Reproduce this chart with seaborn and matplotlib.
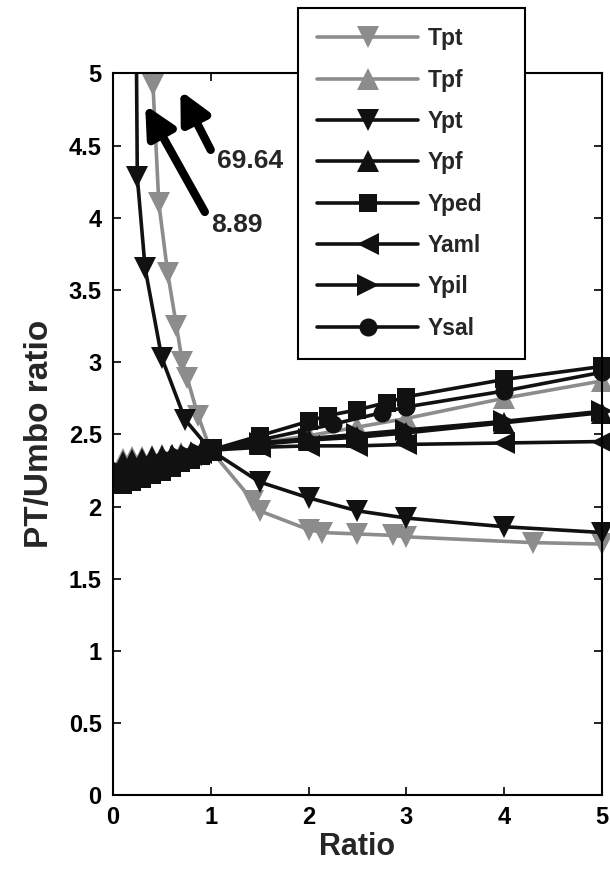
import pandas as pd
import matplotlib.pyplot as plt
import seaborn as sns
from matplotlib.patches import Rectangle

# values
tpt_x = [0.35, 0.41, 0.47, 0.56, 0.65, 0.71, 0.76, 0.87, 1.0, 1.43, 1.5, 2.0, 2.14, 2.5, 2.86, 3.0, 4.29, 5.0]
tpt_y = [69.64, 4.92, 4.10, 3.62, 3.25, 3.00, 2.89, 2.63, 2.39, 2.04, 1.97, 1.84, 1.82, 1.81, 1.80, 1.79, 1.75, 1.74]

ypt_x = [0.2, 0.25, 0.33, 0.5, 0.74, 1.0, 1.5, 2.0, 2.5, 3.0, 4.0, 5.0]
ypt_y = [8.89, 4.28, 3.65, 3.03, 2.60, 2.39, 2.17, 2.06, 1.97, 1.92, 1.86, 1.82]

left_x = [0.1, 0.2, 0.3, 0.4, 0.5, 0.6, 0.7, 0.8, 0.9, 1.0]
right_x = [1.5, 2.0, 2.5, 3.0, 4.0, 5.0]

tpf_y = [2.33, 2.34, 2.34, 2.35, 2.36, 2.36, 2.37, 2.38, 2.38, 2.39,
         2.44, 2.49, 2.55, 2.61, 2.75, 2.87]
ypf_y = [2.31, 2.32, 2.33, 2.34, 2.35, 2.36, 2.36, 2.37, 2.38, 2.39,
         2.43, 2.46, 2.48, 2.51, 2.58, 2.65]
yaml_y = [2.27, 2.28, 2.29, 2.31, 2.32, 2.33, 2.34, 2.36, 2.37, 2.39,
          2.41, 2.42, 2.42, 2.43, 2.44, 2.45]
ypil_y = [2.24, 2.25, 2.27, 2.29, 2.30, 2.32, 2.34, 2.35, 2.37, 2.39,
          2.44, 2.47, 2.50, 2.53, 2.59, 2.66]

yped_x = left_x + [1.5, 2.0, 2.2, 2.5, 2.8, 3.0, 4.0, 5.0]
yped_y = [2.15, 2.17, 2.19, 2.22, 2.24, 2.27, 2.30, 2.32, 2.35, 2.39,
          2.49, 2.59, 2.63, 2.67, 2.72, 2.76, 2.88, 2.97]
ysal_x = left_x + [1.5, 2.25, 2.75, 3.0, 4.0, 5.0]
ysal_y = [2.19, 2.21, 2.23, 2.25, 2.27, 2.29, 2.31, 2.33, 2.36, 2.39,
          2.46, 2.57, 2.65, 2.69, 2.80, 2.93]

series = [
    ("Tpt", tpt_x, tpt_y, "v"),
    ("Tpf", left_x + right_x, tpf_y, "^"),
    ("Ypt", ypt_x, ypt_y, "v"),
    ("Ypf", left_x + right_x, ypf_y, "^"),
    ("Yped", yped_x, yped_y, "s"),
    ("Yaml", left_x + right_x, yaml_y, "<"),
    ("Ypil", left_x + right_x, ypil_y, ">"),
    ("Ysal", ysal_x, ysal_y, "o"),
]

gray = "#8c8c8c"
black = "#111111"

sns.set_theme(style="ticks")
plt.rcParams["font.family"] = ["Liberation Sans", "DejaVu Sans"]
plt.rcParams["font.weight"] = "bold"
plt.rcParams["axes.labelweight"] = "bold"

fig = plt.figure(figsize=(6.1, 8.73), dpi=100)
ax = fig.add_axes([0.185, 0.089, 0.802, 0.827])

for name, xs, ys, mk in series:
    df = pd.DataFrame({"x": xs, "y": ys})
    col = gray if name.startswith("T") else black
    ms = 13 if mk in ("s", "o") else 16
    sns.lineplot(data=df, x="x", y="y", ax=ax, color=col, marker=mk,
                 markersize=ms, markeredgewidth=0, linewidth=2.6,
                 estimator=None, sort=False, label=name)

# let markers on the x=5 edge spill out like the original, keep the top clipped
clip = Rectangle((-0.03, 0), 1.06, 1.0, transform=ax.transAxes, visible=False)
ax.add_patch(clip)
for ln in ax.get_lines():
    ln.set_clip_path(clip)

ax.set_xlim(0, 5)
ax.set_ylim(0, 5)
ax.set_xticks(range(0, 6))
yt = [i * 0.5 for i in range(11)]
ax.set_yticks(yt)
ax.set_yticklabels([f"{v:g}" for v in yt])
ax.tick_params(direction="in", top=True, right=True, length=6, width=1.2,
               labelsize=17, colors="black", pad=8)
for sp in ax.spines.values():
    sp.set_visible(True)
    sp.set_linewidth(1.5)
    sp.set_color("black")
    sp.set_zorder(3)

ax.set_xlabel("Ratio", fontsize=22, labelpad=2)
ax.set_ylabel("PT/Umbo ratio", fontsize=24, labelpad=10)

arrow = dict(arrowstyle="-|>,head_length=1.0,head_width=0.5", lw=6,
             color="black", shrinkA=0, shrinkB=0, mutation_scale=18)
ax.annotate("", xy=(0.69, 4.88), xytext=(1.0, 4.47), arrowprops=arrow)
ax.text(1.06, 4.39, "69.64", fontsize=19, va="center", ha="left")
ax.annotate("", xy=(0.33, 4.78), xytext=(0.94, 4.04), arrowprops=arrow)
ax.text(1.0, 3.95, "8.89", fontsize=19, va="center", ha="left")

# box spans x 298..525 px and hangs from y = 8 px, like the original
leg = ax.legend(loc="upper left",
                bbox_to_anchor=(298 / 610, 0.5, 227 / 610, 0.5 - 8 / 873),
                bbox_transform=fig.transFigure, mode="expand",
                fontsize=16.5, handlelength=4.4, labelspacing=0.8,
                handletextpad=0.4, borderpad=0.85, borderaxespad=0,
                fancybox=False, framealpha=1, edgecolor="black")
leg.get_frame().set_linewidth(1.5)
leg.set_zorder(5)

fig.savefig("out.png", dpi=100)
